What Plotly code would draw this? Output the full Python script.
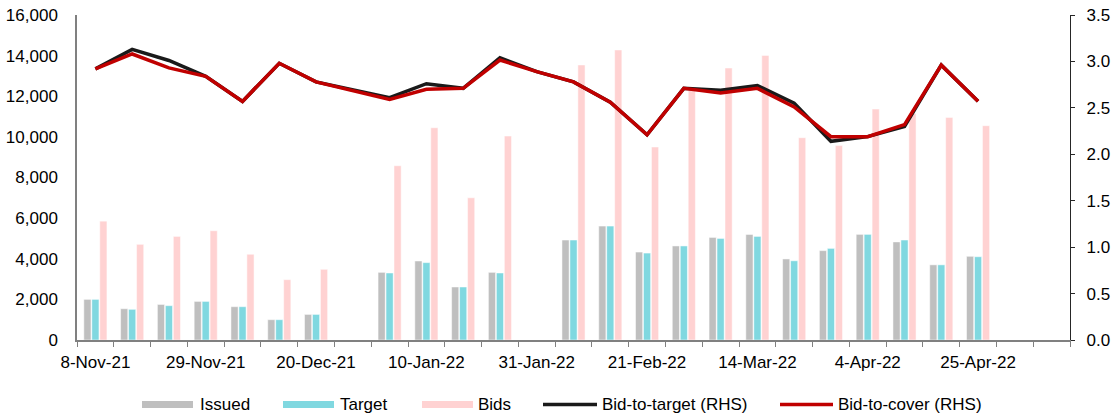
import plotly.graph_objects as go

# ---- data ----
dates = ["2021-11-08", "2021-11-15", "2021-11-22", "2021-11-29", "2021-12-06", "2021-12-13",
         "2021-12-20", "2021-12-27", "2022-01-03", "2022-01-10", "2022-01-17", "2022-01-24",
         "2022-01-31", "2022-02-07", "2022-02-14", "2022-02-21", "2022-02-28", "2022-03-07",
         "2022-03-14", "2022-03-21", "2022-03-28", "2022-04-04", "2022-04-11", "2022-04-18",
         "2022-04-25", "2022-05-02", "2022-05-09"]
issued = [2000, 1540, 1750, 1900, 1640, 1000, 1260, None, 3330, 3890, 2610, 3330,
          None, 4920, 5610, 4330, 4630, 5050, 5200, 3990, 4400, 5200, 4830, 3700,
          4120, None, None]
target = [2000, 1510, 1690, 1900, 1640, 1000, 1260, None, 3300, 3810, 2610, 3300,
          None, 4920, 5610, 4280, 4630, 5000, 5100, 3900, 4510, 5200, 4920, 3700,
          4100, None, None]
bids = [5850, 4710, 5100, 5380, 4220, 2970, 3480, None, 8580, 10450, 7000, 10040,
        None, 13540, 14280, 9500, 12300, 13390, 14010, 9960, 9570, 11370, 11150, 10960,
        10550, None, None]
bid_to_target = [2.92, 3.13, 3.01, 2.84, 2.57, 2.98, 2.78, None, 2.61, 2.76, 2.71, 3.04,
                 2.89, 2.78, 2.56, 2.21, 2.71, 2.69, 2.74, 2.55, 2.14, 2.19, 2.30, 2.96,
                 2.57, None, None]
bid_to_cover = [2.92, 3.08, 2.93, 2.84, 2.57, 2.98, 2.78, None, 2.59, 2.70, 2.71, 3.015,
                2.89, 2.78, 2.56, 2.21, 2.71, 2.66, 2.71, 2.51, 2.19, 2.19, 2.32, 2.96,
                2.57, None, None]
tick_dates = dates[::3]

# ---- styles ----
C_ISSUED = "#BFBFBF"
C_TARGET = "#80D8E0"
C_BIDS = "#FFD2D2"
C_BTT = "#1A1A1A"
C_BTC = "#C00000"
FONT = "Liberation Sans, Arial, sans-serif"

fig = go.Figure()
for name, vals, col in [("Issued", issued, C_ISSUED), ("Target", target, C_TARGET), ("Bids", bids, C_BIDS)]:
    fig.add_trace(go.Bar(x=dates, y=vals, name=name, marker=dict(color=col, line=dict(color="white", width=0.5)),
                         showlegend=False))
fig.add_trace(go.Scatter(x=dates, y=bid_to_target, name="Bid-to-target (RHS)", mode="lines", yaxis="y2",
                         connectgaps=True, line=dict(color=C_BTT, width=3.5), showlegend=False))
fig.add_trace(go.Scatter(x=dates, y=bid_to_cover, name="Bid-to-cover (RHS)", mode="lines", yaxis="y2",
                         connectgaps=True, line=dict(color=C_BTC, width=3.5), showlegend=False))

L, R, T, B = 77, 46, 15, 78
W, H = 1116, 418
pw, ph = W - L - R, H - T - B


def px_x(p):
    return (p - L) / pw


def px_y(p):
    return (H - B - p) / ph


# manual legend (swatches + real text)
legend_items = [("Issued", C_ISSUED, "rect", 142, 193, 200),
                ("Target", C_TARGET, "rect", 283, 334, 340),
                ("Bids", C_BIDS, "rect", 422, 473, 478),
                ("Bid-to-target (RHS)", C_BTT, "line", 543, 597, 602),
                ("Bid-to-cover (RHS)", C_BTC, "line", 780, 833, 838)]
ly = 404.5
for label, col, kind, x0, x1, tx in legend_items:
    if kind == "rect":
        fig.add_shape(type="rect", xref="paper", yref="paper", x0=px_x(x0), x1=px_x(x1),
                      y0=px_y(ly - 3.5), y1=px_y(ly + 3.5), fillcolor=col, line=dict(width=0))
    else:
        fig.add_shape(type="line", xref="paper", yref="paper", x0=px_x(x0), x1=px_x(x1),
                      y0=px_y(ly), y1=px_y(ly), line=dict(color=col, width=3.5))
    fig.add_annotation(text=label, xref="paper", yref="paper", x=px_x(tx - 2), y=px_y(ly),
                       xanchor="left", yanchor="middle", showarrow=False,
                       font=dict(family=FONT, size=17, color="#000000"))

fig.update_layout(
    width=W, height=H,
    margin=dict(l=L, r=R, t=T, b=B, autoexpand=False),
    plot_bgcolor="white", paper_bgcolor="white",
    barmode="group", bargap=0.35, bargroupgap=0.1,
    font=dict(family=FONT, size=17, color="#000000"),
    showlegend=False,
    xaxis=dict(
        type="date", automargin=False,
        range=["2021-11-04 12:00", "2022-05-12 12:00"],
        tickmode="array", tickvals=tick_dates, tickformat="%-d-%b-%y",
        ticks="", showgrid=False, zeroline=False,
        showline=True, linecolor="#808080", linewidth=1.5,
        ticklabelstandoff=6,
        minor=dict(ticks="outside", tick0="2021-11-04 12:00", dtick=7 * 86400000,
                   ticklen=5, tickcolor="#808080", tickwidth=1.2, showgrid=False),
    ),
    yaxis=dict(
        automargin=False,
        range=[0, 16000], dtick=2000, tickformat=",", showgrid=False, zeroline=False,
        showline=True, linecolor="#808080", linewidth=1.5, ticks="", ticklabelstandoff=14,
    ),
    yaxis2=dict(
        automargin=False,
        range=[0, 3.5], dtick=0.5, tickformat=".1f", overlaying="y", side="right",
        showgrid=False, zeroline=False, showline=True, linecolor="#262626", linewidth=1.2,
        ticks="outside", ticklen=4, tickcolor="#262626", ticklabelstandoff=8,
    ),
)

fig.write_html("out.html", config={"displayModeBar": False},
               post_script="document.body.style.margin='0';document.body.style.overflow='hidden';")
